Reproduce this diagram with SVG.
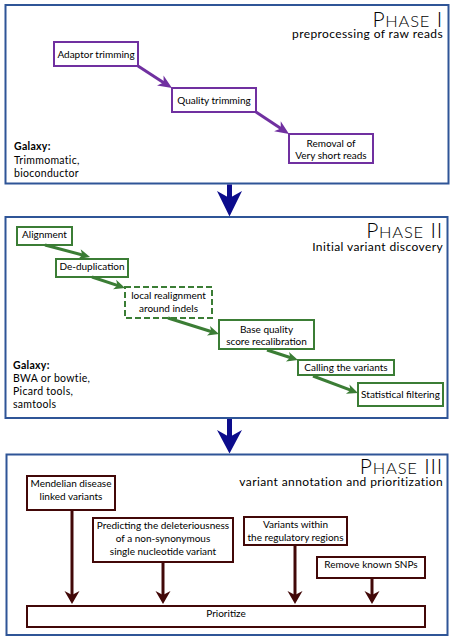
<svg xmlns="http://www.w3.org/2000/svg" width="454" height="641" viewBox="0 0 454 641">
<defs>
<style>
.frame{fill:#fff;stroke:#2F5597;stroke-width:2}
.t{font-family:Lato,"Open Sans","Liberation Sans",sans-serif;font-size:10px;fill:#000;text-anchor:middle}
.g{font-family:Lato,"Open Sans","Liberation Sans",sans-serif;font-size:10.5px;fill:#000;letter-spacing:0.3px}
.title{font-family:Lato,"Open Sans","Liberation Sans",sans-serif;font-weight:300;fill:#000;text-anchor:end;letter-spacing:0.8px}
.sub{font-family:Lato,"Open Sans","Liberation Sans",sans-serif;font-size:12px;fill:#000;text-anchor:end;letter-spacing:0.4px}
.np{fill:#fff;stroke:#7030A0;stroke-width:2}
.ng{fill:#fff;stroke:#3B7D35;stroke-width:2}
.nm{fill:#fff;stroke:#420808;stroke-width:2}
.cp{stroke:#7030A0;stroke-width:3;fill:none;marker-end:url(#hp)}
.cg{stroke:#3B7D35;stroke-width:3;fill:none;marker-end:url(#hg)}
.cm{stroke:#420808;stroke-width:3;fill:none;marker-end:url(#hm)}
.cb{stroke:#0C0C8C;stroke-width:5;fill:none}
</style>
<marker id="hp" markerUnits="userSpaceOnUse" markerWidth="14" markerHeight="12" refX="6" refY="6" orient="auto" overflow="visible"><path d="M0,0 L14,6 L0,12 L4,6 z" fill="#7030A0"/></marker>
<marker id="hg" markerUnits="userSpaceOnUse" markerWidth="11" markerHeight="10" refX="6" refY="5" orient="auto" overflow="visible"><path d="M0,0 L11,5 L0,10 L3,5 z" fill="#3B7D35"/></marker>
<marker id="hm" markerUnits="userSpaceOnUse" markerWidth="13" markerHeight="15" refX="7" refY="7.5" orient="auto" overflow="visible"><path d="M0,0 L13,7.5 L0,15 L4,7.5 z" fill="#420808"/></marker>
</defs>
<rect width="454" height="641" fill="#fff"/>

<g id="phase1">
<rect class="frame" x="5.5" y="5" width="443" height="178.5"/>
<text class="title" x="443" y="26.5"><tspan font-size="21">P</tspan><tspan font-size="16.5">HASE</tspan><tspan font-size="21"> I</tspan></text>
<text class="sub" x="443" y="38">preprocessing of raw reads</text>
<text class="g" x="14" y="150" font-weight="bold">Galaxy:</text>
<text class="g" x="14" y="164">Trimmomatic,</text>
<text class="g" x="14" y="177">bioconductor</text>
</g>

<g id="phase2">
<rect class="frame" x="5.5" y="217" width="442" height="201"/>
<text class="title" x="443" y="237.5"><tspan font-size="21">P</tspan><tspan font-size="16.5">HASE</tspan><tspan font-size="21"> II</tspan></text>
<text class="sub" x="443" y="251">Initial variant discovery</text>
<text class="g" x="13" y="369" font-weight="bold">Galaxy:</text>
<text class="g" x="13" y="382">BWA or bowtie,</text>
<text class="g" x="13" y="395">Picard tools,</text>
<text class="g" x="13" y="408">samtools</text>
</g>

<g id="phase3">
<rect class="frame" x="6.5" y="454.5" width="441" height="180.5"/>
<text class="title" x="443" y="473.5"><tspan font-size="21">P</tspan><tspan font-size="16.5">HASE</tspan><tspan font-size="21"> III</tspan></text>
<text class="sub" x="443" y="486">variant annotation and prioritization</text>
</g>

<g id="adaptor"><rect class="np" x="54" y="42" width="84" height="24"/><text class="t" x="96" y="57.5">Adaptor trimming</text></g>
<g id="quality"><rect class="np" x="172" y="88" width="84" height="24"/><text class="t" x="214" y="103.5">Quality trimming</text></g>
<g id="removal"><rect class="np" x="289" y="134" width="84" height="29"/><text class="t" x="331" y="146.5">Removal of</text><text class="t" x="331" y="159">Very short reads</text></g>

<g id="alignment"><rect class="ng" x="17" y="227" width="55" height="18"/><text class="t" x="44.5" y="237.5">Alignment</text></g>
<g id="dedup"><rect class="ng" x="56" y="259" width="72" height="18"/><text class="t" x="92" y="269.5">De-duplication</text></g>
<g id="realign"><rect class="ng" x="125" y="287" width="87" height="31" stroke-dasharray="6,3"/><text class="t" x="168.5" y="298.5">local realignment</text><text class="t" x="168.5" y="311.5">around indels</text></g>
<g id="bqsr"><rect class="ng" x="219" y="320" width="95" height="29"/><text class="t" x="266.5" y="332.5">Base quality</text><text class="t" x="266.5" y="345">score recalibration</text></g>
<g id="calling"><rect class="ng" x="298" y="360" width="96" height="15"/><text class="t" x="346" y="370.5">Calling the variants</text></g>
<g id="statfilter"><rect class="ng" x="358" y="383" width="85" height="23"/><text class="t" x="400.5" y="398">Statistical filtering</text></g>

<g id="mendelian"><rect class="nm" x="27" y="476" width="88" height="34"/><text class="t" x="71" y="487">Mendelian disease</text><text class="t" x="71" y="500">linked variants</text></g>
<g id="predicting"><rect class="nm" x="93" y="518" width="140" height="44"/><text class="t" x="163" y="528.5">Predicting the deleteriousness</text><text class="t" x="163" y="542">of a non-synonymous</text><text class="t" x="163" y="555">single nucleotide variant</text></g>
<g id="regulatory"><rect class="nm" x="244" y="517" width="103" height="28"/><text class="t" x="295.5" y="527.5">Variants within</text><text class="t" x="295.5" y="541">the regulatory regions</text></g>
<g id="snps"><rect class="nm" x="317" y="557" width="108" height="21"/><text class="t" x="371" y="568">Remove known SNPs</text></g>
<g id="prioritize"><rect class="nm" x="27" y="606" width="398" height="21"/><text class="t" x="226" y="616.5">Prioritize</text></g>

<g id="connectors">
<path class="cp" d="M138,66 L165.3,83.7"/>
<path class="cp" d="M256,112 L282.4,129.6"/>
<path class="cg" d="M45,245 L85.2,255.7"/>
<path class="cg" d="M92,277 L120.3,286.4"/>
<path class="cg" d="M168,318 L214.2,332.5"/>
<path class="cg" d="M267,350 L293.2,358.5"/>
<path class="cg" d="M313,376 L353.3,391.2"/>
<path class="cm" d="M72,510 L72,598"/>
<path class="cm" d="M163,562 L163,598"/>
<path class="cm" d="M295,545 L295,598"/>
<path class="cm" d="M372,578 L372,598"/>
<path class="cb" d="M229.5,184.5 L229.5,202"/>
<path d="M217,191 L229.5,216.5 L242,191 L229.5,198 z" fill="#0C0C8C"/>
<path class="cb" d="M229.5,419 L229.5,440"/>
<path d="M217,430 L229.5,453.5 L242,430 L229.5,437 z" fill="#0C0C8C"/>
</g>
</svg>
